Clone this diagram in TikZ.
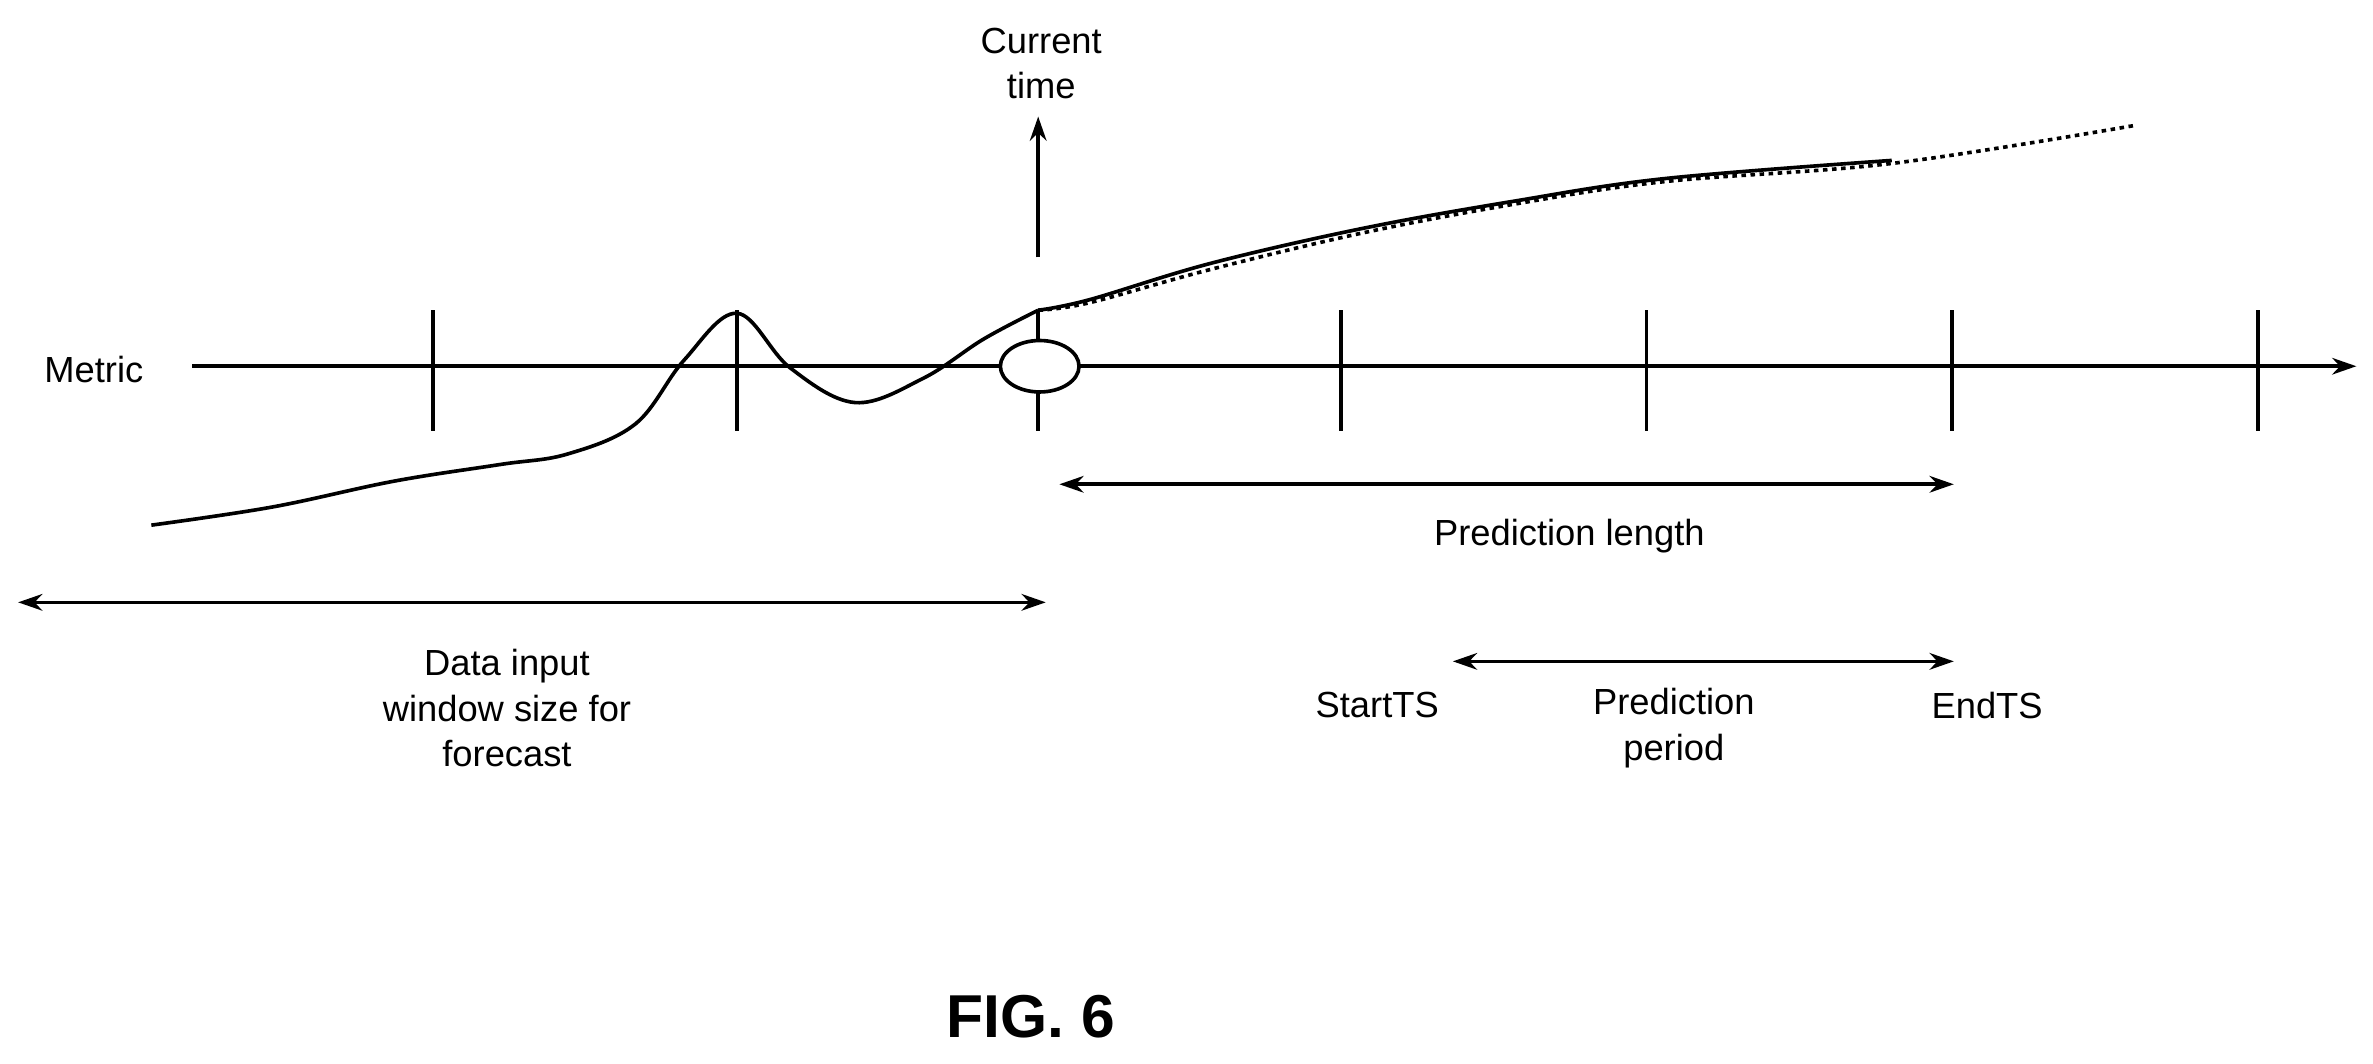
\documentclass[tikz,border=0pt]{standalone}
\usepackage{fontspec}
\setmainfont{Liberation Sans}
\usetikzlibrary{arrows.meta}
\begin{document}
\begin{tikzpicture}[x=1pt,y=-1pt,line width=2.4pt,
    lbl/.style={font=\fontsize{24}{30}\selectfont,align=center,inner sep=0pt},
    dbl/.style={{Stealth[length=16pt,width=11pt]}-{Stealth[length=16pt,width=11pt]}},
    tip/.style={-{Stealth[length=16pt,width=11pt]}}]
    \useasboundingbox (0,0) rectangle (1568,703);
    % axis
    \coordinate (axL) at (127,242);
    \coordinate (axR) at (1557,242);
    \draw[tip] (axL) -- (axR);
    \node[lbl] (metric) at (62,244) {Metric};
    % ticks
    \foreach \tx in {286,487,686,886,1088,1290,1492}
        \draw (\tx,205) -- (\tx,285);
    \draw[fill=white] (687,242) ellipse (26 and 17);
    % current time
    \coordinate (now) at (686,170);
    \coordinate (nowTop) at (686,77);
    \draw[tip] (now) -- (nowTop);
    \node[lbl] (current) at (688,42) {Current\\time};
    % metric curve
    \draw plot[smooth,tension=0.6] coordinates {(100,347) (180,335) (260,318) (330,307) (375,300) (420,280) (452,238) (487,207) (522,243) (565,266) (610,250) (650,224) (686,205)};
    \draw plot[smooth,tension=0.6] coordinates {(686,205) (720,198) (800,174) (900,151) (1000,133) (1100,118) (1250,106)};
    \draw[dashed] plot[smooth,tension=0.6] coordinates {(686,205) (720,200) (800,178) (900,154) (1000,135) (1100,120) (1250,108) (1410,83)};
    % prediction length
    \coordinate (plA) at (700,320);
    \coordinate (plB) at (1291,320);
    \draw[dbl] (plA) -- (plB);
    \node[lbl] (predlen) at (1037,354) {Prediction length};
    % data input window
    \coordinate (diA) at (12,398);
    \coordinate (diB) at (691,398);
    \draw[dbl] (diA) -- (diB);
    \node[lbl] (datain) at (335,468) {Data input\\window size for\\forecast};
    % prediction period
    \coordinate (ppA) at (960,437);
    \coordinate (ppB) at (1291,437);
    \draw[dbl] (ppA) -- (ppB);
    \node[lbl] (startts) at (910,466) {StartTS};
    \node[lbl] (endts) at (1313,466) {EndTS};
    \node[lbl] (predper) at (1106,481) {Prediction\\period};
    \node[font=\fontsize{40}{48}\selectfont\bfseries,inner sep=0pt] (fig) at (681,672) {FIG. 6};
\end{tikzpicture}
\end{document}
